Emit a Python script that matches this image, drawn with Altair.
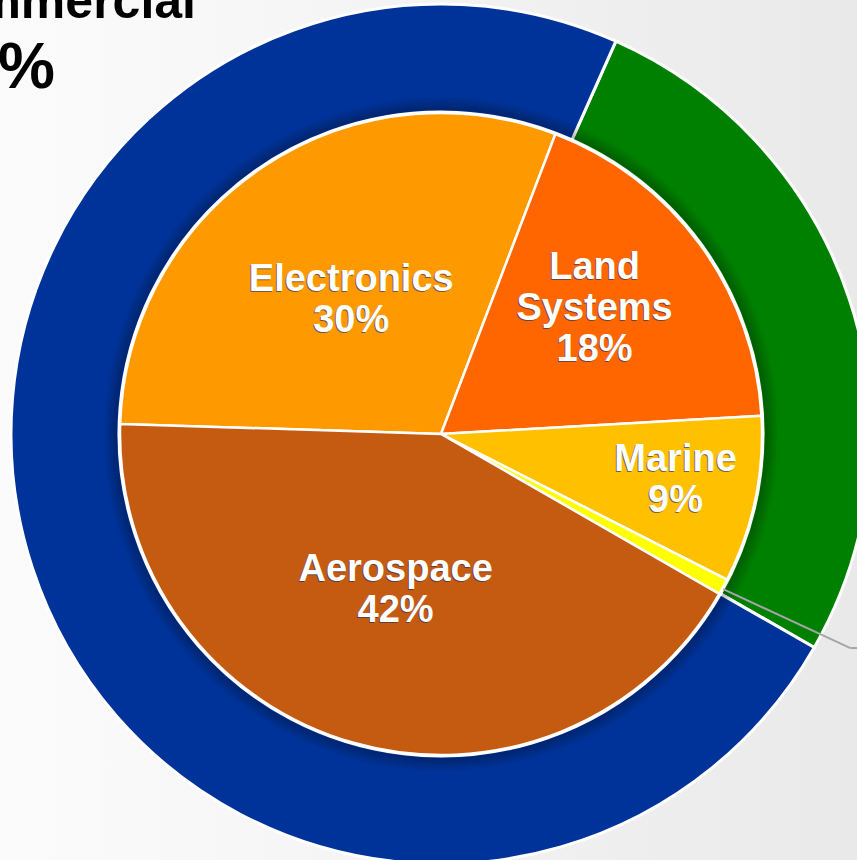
import math
import altair as alt
import pandas as pd

# ---------------- data ----------------
inner_cats = ["Electronics", "Land Systems", "Marine", "Other", "Aerospace"]
inner_values = [30.3, 18.3, 8.4, 0.8, 42.2]
inner_labels = ["Electronics\n30%", "Land\nSystems\n18%", "Marine\n9%", "", "Aerospace\n42%"]
inner_colors = ["#FF9900", "#FF6600", "#FFC000", "#FFFF00", "#C55A11"]

outer_cats = ["Commercial", "Non-Commercial"]
outer_values = [26.6, 73.4]
outer_colors = ["#008000", "#003399"]

corner_title = "Non-Commercial"
corner_pct = "73%"

# ---------------- layout constants ----------------
W, H = 857, 860
CX, CY = 441, 434
R_PIE = 321
R_RING_IN, R_RING_OUT = 322, 430
TAU = 2 * math.pi
pie_start = math.radians(271.8)
ring_start = math.radians(24.0)
FONT = "Liberation Sans"

inner_df = pd.DataFrame({"cat": inner_cats, "value": inner_values,
                         "label": inner_labels, "idx": range(len(inner_cats))})
outer_df = pd.DataFrame({"cat": outer_cats, "value": outer_values,
                         "idx": range(len(outer_cats))})
one = alt.Data(values=[{}])

# background gradient
bg = alt.Chart(one).mark_rect(
    color=alt.LinearGradient(
        gradient="linear", x1=0, x2=1, y1=0, y2=0,
        stops=[alt.GradientStop(color="#fbfbfb", offset=0),
               alt.GradientStop(color="#f6f6f6", offset=0.35),
               alt.GradientStop(color="#e9e9e9", offset=1)])
).encode(x=alt.value(0), x2=alt.value(W), y=alt.value(0), y2=alt.value(H))

# outer ring
ring = alt.Chart(outer_df).mark_arc(
    radius=R_RING_OUT, radius2=R_RING_IN, stroke="white", strokeWidth=3
).encode(
    theta=alt.Theta("value:Q", stack=True,
                    scale=alt.Scale(domain=[0, 100], range=[ring_start, ring_start + TAU])),
    order=alt.Order("idx:Q"),
    color=alt.Color("cat:N", scale=alt.Scale(domain=outer_cats, range=outer_colors), legend=None),
    x=alt.value(CX), y=alt.value(CY),
)

# soft shadow around the pie
shadow_r = 338
shadow = alt.Chart(one).mark_arc(
    radius=shadow_r, radius2=R_PIE + 3,
    color=alt.RadialGradient(
        gradient="radial", x1=0.5, y1=0.5, r1=(R_PIE + 3) / (2 * shadow_r),
        x2=0.5, y2=0.5, r2=0.5,
        stops=[alt.GradientStop(color="rgba(0,0,0,0.28)", offset=0),
               alt.GradientStop(color="rgba(0,0,0,0.0)", offset=1)])
).encode(theta=alt.value(0), theta2=alt.value(TAU), x=alt.value(CX), y=alt.value(CY))

# inner pie
pie = alt.Chart(inner_df).mark_arc(
    radius=R_PIE, stroke="white", strokeWidth=2.5
).encode(
    theta=alt.Theta("value:Q", stack=True,
                    scale=alt.Scale(domain=[0, 100], range=[pie_start, pie_start + TAU])),
    order=alt.Order("idx:Q"),
    color=alt.Color("cat:N", scale=alt.Scale(domain=inner_cats, range=inner_colors), legend=None),
    x=alt.value(CX), y=alt.value(CY),
)

# leader line from the thin slice
a1, a2 = math.radians(118.8), math.radians(117.6)
sx, sy = CX + 322 * math.sin(a1), CY - 322 * math.cos(a1)
ex, ey = CX + 462 * math.sin(a2), CY - 462 * math.cos(a2)
leader1 = alt.Chart(one).mark_rule(color="#a6a6a6", strokeWidth=2).encode(
    x=alt.value(sx), y=alt.value(sy), x2=alt.value(ex), y2=alt.value(ey))
leader2 = alt.Chart(one).mark_rule(color="#a6a6a6", strokeWidth=2).encode(
    x=alt.value(ex), y=alt.value(ey), x2=alt.value(W + 5), y2=alt.value(ey))

# labels: anchor = first line of each label, near the slice middle
radius_expr = ("datum.cat == 'Electronics' ? 178 : datum.cat == 'Land Systems' ? 226 : "
               "datum.cat == 'Marine' ? 236 : datum.cat == 'Aerospace' ? 143 : 100")
adj_expr = ("datum.cat == 'Electronics' ? 0.94 : datum.cat == 'Land Systems' ? -3.06 : "
            "datum.cat == 'Marine' ? -1.53 : datum.cat == 'Aerospace' ? 0.74 : 0")


def label_layer(color, dx, dy, opacity):
    return alt.Chart(inner_df).transform_window(
        cum="sum(value)", sort=[alt.SortField("idx")], frame=[None, 0]
    ).transform_calculate(
        lr=radius_expr, adj=adj_expr
    ).transform_calculate(
        mid="datum.cum - datum.value / 2 + datum.adj"
    ).mark_text(
        font=FONT, fontSize=38, fontWeight="bold", lineBreak="\n", lineHeight=41,
        align="center", baseline="middle", color=color, dx=dx, dy=dy, opacity=opacity
    ).encode(
        theta=alt.Theta("mid:Q", stack=None,
                        scale=alt.Scale(domain=[0, 100], range=[pie_start, pie_start + TAU])),
        radius=alt.Radius("lr:Q", scale=None),
        text="label:N",
        x=alt.value(CX), y=alt.value(CY),
    )


label_shadow = label_layer("#1f2a5c", -1, 1, 0.6)
labels = label_layer("white", 0, 0, 1)

corner1 = alt.Chart(one).mark_text(
    text=corner_title, font=FONT, fontSize=50, fontWeight="bold",
    align="right", baseline="alphabetic", color="black"
).encode(x=alt.value(196), y=alt.value(18))
corner2 = alt.Chart(one).mark_text(
    text=corner_pct, font=FONT, fontSize=64, fontWeight="bold",
    align="right", baseline="alphabetic", color="black"
).encode(x=alt.value(55), y=alt.value(88))

chart = alt.layer(
    bg, ring, shadow, pie, leader1, leader2, label_shadow, labels, corner1, corner2
).resolve_scale(
    theta="independent", color="independent", radius="independent"
).properties(
    width=W, height=H, autosize=alt.AutoSizeParams(type="none"), padding=0,
    background="#f4f4f4"
).configure_view(stroke=None)

chart.save("out.html", embed_options={"renderer": "svg", "actions": False})
